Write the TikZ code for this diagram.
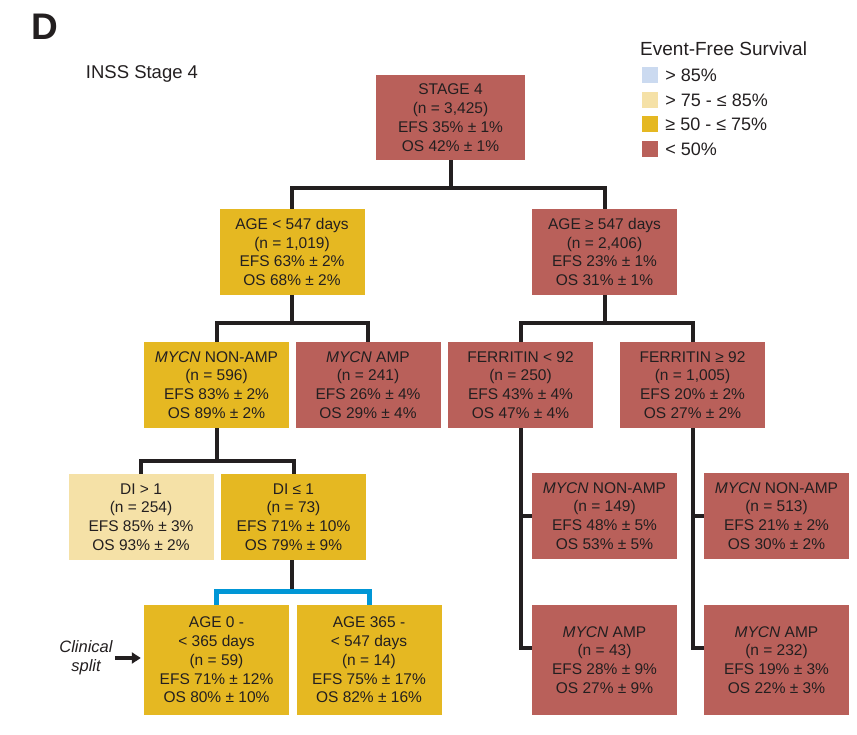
\documentclass[tikz,border=0pt]{standalone}
\usepackage{fontspec}
\setmainfont{Liberation Sans}
\usetikzlibrary{arrows.meta, positioning}

\definecolor{ink}{HTML}{231F20}
\definecolor{efsred}{HTML}{B9605A}
\definecolor{efsgold}{HTML}{E5B822}
\definecolor{efslight}{HTML}{F5E1A7}
\definecolor{efsblue}{HTML}{CBDAF0}
\definecolor{splitblue}{HTML}{0096D6}

\begin{document}
\begin{tikzpicture}[x=1pt, y=-1pt,
    box/.style={
        rectangle,
        minimum width=145pt,
        minimum height=86pt,
        inner sep=0pt,
        align=center,
        text=ink,
        font=\fontsize{15.5}{18.8}\selectfont
    },
    low box/.style={box, fill=efsred},
    mid box/.style={box, fill=efsgold},
    high box/.style={box, fill=efslight},
    tall box/.style={minimum height=110pt},
    link/.style={draw=ink, line width=4pt},
    split bracket/.style={draw=splitblue, line width=5pt},
    key/.style={minimum size=16pt, inner sep=0pt},
    key text/.style={text=ink, inner sep=0pt, font=\fontsize{18}{21}\selectfont}
]
    \useasboundingbox (0,0) rectangle (857,735);

    % titre et legende
    \node[text=ink, font=\fontsize{37}{37}\selectfont\bfseries] (panel) at (45,27) {D};
    \node[text=ink, font=\fontsize{18.5}{21}\selectfont] (stagelabel) at (142,74) {INSS Stage 4};
    \node[key text, anchor=west, font=\fontsize{19}{22}\selectfont] (keytitle) at (640,49) {Event-Free Survival};
    \node[key, fill=efsblue] (k1) at (650,75) {};
    \node[key, fill=efslight] (k2) at (650,100) {};
    \node[key, fill=efsgold] (k3) at (650,124) {};
    \node[key, fill=efsred] (k4) at (650,149) {};
    \node[key text, right=7pt of k1] {> 85\%};
    \node[key text, right=7pt of k2] {> 75 - ≤ 85\%};
    \node[key text, right=7pt of k3] {≥ 50 - ≤ 75\%};
    \node[key text, right=7pt of k4] {< 50\%};

    % les boites
    \node[low box, minimum width=149pt, minimum height=85pt] (stage) at (450.5,117.5)
        {STAGE 4\\(n = 3,425)\\EFS 35\% ± 1\%\\OS 42\% ± 1\%};
    \node[mid box] (agelo) at (292,252)
        {AGE < 547 days\\(n = 1,019)\\EFS 63\% ± 2\%\\OS 68\% ± 2\%};
    \node[low box] (agehi) at (604.5,252)
        {AGE ≥ 547 days\\(n = 2,406)\\EFS 23\% ± 1\%\\OS 31\% ± 1\%};
    \node[mid box] (nonamp) at (216.5,385)
        {\textit{MYCN} NON-AMP\\(n = 596)\\EFS 83\% ± 2\%\\OS 89\% ± 2\%};
    \node[low box] (amp) at (368,385)
        {\textit{MYCN} AMP\\(n = 241)\\EFS 26\% ± 4\%\\OS 29\% ± 4\%};
    \node[low box] (ferlo) at (520.5,385)
        {FERRITIN < 92\\(n = 250)\\EFS 43\% ± 4\%\\OS 47\% ± 4\%};
    \node[low box] (ferhi) at (692.5,385)
        {FERRITIN ≥ 92\\(n = 1,005)\\EFS 20\% ± 2\%\\OS 27\% ± 2\%};
    \node[high box] (dihi) at (141,517)
        {DI > 1\\(n = 254)\\EFS 85\% ± 3\%\\OS 93\% ± 2\%};
    \node[mid box] (dilo) at (293.5,517)
        {DI ≤ 1\\(n = 73)\\EFS 71\% ± 10\%\\OS 79\% ± 9\%};
    \node[mid box, tall box] (agea) at (216.5,660)
        {AGE 0 -\\< 365 days\\(n = 59)\\EFS 71\% ± 12\%\\OS 80\% ± 10\%};
    \node[mid box, tall box] (ageb) at (369,660)
        {AGE 365 -\\< 547 days\\(n = 14)\\EFS 75\% ± 17\%\\OS 82\% ± 16\%};
    \node[low box] (nonamplo) at (604.5,516)
        {\textit{MYCN} NON-AMP\\(n = 149)\\EFS 48\% ± 5\%\\OS 53\% ± 5\%};
    \node[low box] (nonamphi) at (776.5,516)
        {\textit{MYCN} NON-AMP\\(n = 513)\\EFS 21\% ± 2\%\\OS 30\% ± 2\%};
    \node[low box, tall box] (amplo) at (604.5,660)
        {\textit{MYCN} AMP\\(n = 43)\\EFS 28\% ± 9\%\\OS 27\% ± 9\%};
    \node[low box, tall box] (amphi) at (776.5,660)
        {\textit{MYCN} AMP\\(n = 232)\\EFS 19\% ± 3\%\\OS 22\% ± 3\%};

    \node[text=ink, align=center, inner sep=0pt, font=\fontsize{16.5}{19}\selectfont\itshape] (clinical) at (86,658)
        {Clinical\\split};

    % les branches
    \draw[link] (stage.south) -- ++(0,28) -| (agelo.north);
    \draw[link] (stage.south) -- ++(0,28) -| (agehi.north);
    \draw[link] (agelo.south) -- ++(0,28) -| (nonamp.north);
    \draw[link] (agelo.south) -- ++(0,28) -| (amp.north);
    \draw[link] (agehi.south) -- ++(0,28) -| (ferlo.north);
    \draw[link] (agehi.south) -- ++(0,28) -| (ferhi.north);
    \draw[link] (nonamp.south) -- ++(0,33) -| (dihi.north);
    \draw[link] (nonamp.south) -- ++(0,33) -| (dilo.north);
    \draw[link] (ferlo.south) |- (nonamplo.west);
    \draw[link] (ferlo.south) |- ([yshift=12pt]amplo.west);
    \draw[link] (ferhi.south) |- (nonamphi.west);
    \draw[link] (ferhi.south) |- ([yshift=12pt]amphi.west);
    \draw[link] ([xshift=-1.5pt]dilo.south) -- ++(0,31) coordinate (fork);
    \draw[split bracket] (agea.north) |- (fork) -| (ageb.north);
    \draw[ink, line width=3.5pt, -{Triangle[length=9pt, width=11pt]}, shorten <=2pt, shorten >=3pt]
        (clinical.east) -- (clinical.east -| agea.west);
\end{tikzpicture}
\end{document}
